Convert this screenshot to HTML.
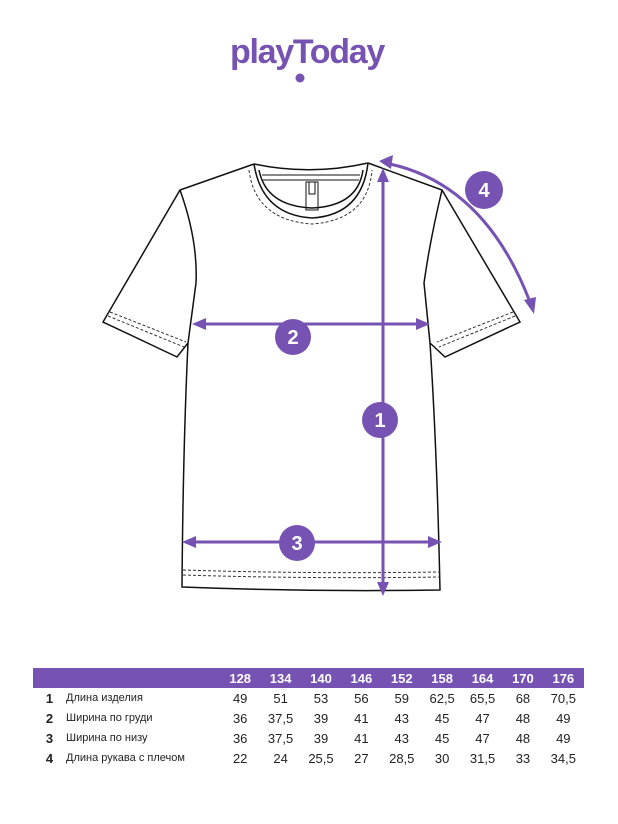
<!DOCTYPE html>
<html><head><meta charset="utf-8"><style>
body{margin:0;width:618px;height:824px;background:#fff;overflow:hidden;position:relative;font-family:"Liberation Sans",sans-serif}
.logo{position:absolute;left:230px;top:33px;font-size:34px;font-weight:bold;color:#7652b3;letter-spacing:-1.3px}
table{position:absolute;left:33px;top:668px;border-collapse:collapse;font-size:13px;color:#222}
td{height:20px;padding:0;text-align:center;width:40.4px}
tr.h td{background:#7652b3;color:#fff;font-weight:bold;font-size:13px}
td.n{width:33px;font-weight:bold;text-align:center}
td.l{width:154px;text-align:left;font-size:11px}
</style></head><body>
<div class="logo">playToday</div>
<svg width="618" height="824" style="position:absolute;left:0;top:0">
<circle cx="300" cy="78" r="4.5" fill="#7652b3"/>
<g fill="none" stroke="#111" stroke-width="1.5">
<path d="M254,164 L180,190 L103,322 L177,357 L188,343 M180,190 Q198,240 196,283 L188,343 Q183,450 182,587 Q310,592 440,590 Q437,450 430,343 L424,283 Q430,240 442,190 L368,163 M442,190 L520,322 L445,357 L430,343"/>
<path d="M254,164 Q311,176 368,163"/>
<path d="M254,164 Q262,215 312,218 Q362,215 368,163"/>
<path d="M259,170 Q266,206 312,208 Q358,206 363,170"/>
<path d="M262,175 L360,175 M263,180 L359,180" stroke-width="1"/>
<rect x="306" y="182" width="12" height="28" stroke-width="1"/>
<rect x="309" y="182" width="6" height="12" stroke-width="1"/>
</g>
<g fill="none" stroke="#333" stroke-width="1" stroke-dasharray="3,2">
<path d="M249,170 Q255,220 312,224 Q368,220 372,170"/>
<path d="M110,312 L186,342 M108,316 L184,347"/>
<path d="M513,312 L437,342 M515,316 L439,347"/>
<path d="M183,570 Q310,574 440,572 M183,575 Q310,579 440,577"/>
</g>
<g stroke="#7652b3" stroke-width="3" fill="#7652b3">
<line x1="383" y1="178" x2="383" y2="586"/>
<polygon points="383,168 377,182 389,182" stroke="none"/>
<polygon points="383,596 377,582 389,582" stroke="none"/>
<line x1="202" y1="324" x2="420" y2="324"/>
<polygon points="192,324 206,318 206,330" stroke="none"/>
<polygon points="430,324 416,318 416,330" stroke="none"/>
<line x1="192" y1="542" x2="432" y2="542"/>
<polygon points="182,542 196,536 196,548" stroke="none"/>
<polygon points="442,542 428,536 428,548" stroke="none"/>
<path d="M390,164 Q485,185 530,302" fill="none"/>
<polygon points="379,161 393,155 391,169" stroke="none"/>
<polygon points="534,314 524,300 536,297" stroke="none"/>
</g>
<g fill="#7652b3">
<circle cx="380" cy="420" r="18"/><circle cx="293" cy="337" r="18"/>
<circle cx="297" cy="543" r="18"/><circle cx="484" cy="190" r="19"/>
</g>
<g fill="#fff" font-family="Liberation Sans" font-weight="bold" font-size="20" text-anchor="middle">
<text x="380" y="427">1</text><text x="293" y="344">2</text>
<text x="297" y="550">3</text><text x="484" y="197">4</text>
</g>
</svg>
<table>
<tr class="h"><td class="n"></td><td class="l"></td><td>128</td><td>134</td><td>140</td><td>146</td><td>152</td><td>158</td><td>164</td><td>170</td><td>176</td></tr>
<tr><td class="n">1</td><td class="l">Длина изделия</td><td>49</td><td>51</td><td>53</td><td>56</td><td>59</td><td>62,5</td><td>65,5</td><td>68</td><td>70,5</td></tr>
<tr><td class="n">2</td><td class="l">Ширина по груди</td><td>36</td><td>37,5</td><td>39</td><td>41</td><td>43</td><td>45</td><td>47</td><td>48</td><td>49</td></tr>
<tr><td class="n">3</td><td class="l">Ширина по низу</td><td>36</td><td>37,5</td><td>39</td><td>41</td><td>43</td><td>45</td><td>47</td><td>48</td><td>49</td></tr>
<tr><td class="n">4</td><td class="l">Длина рукава с плечом</td><td>22</td><td>24</td><td>25,5</td><td>27</td><td>28,5</td><td>30</td><td>31,5</td><td>33</td><td>34,5</td></tr>
</table>
</body></html>
